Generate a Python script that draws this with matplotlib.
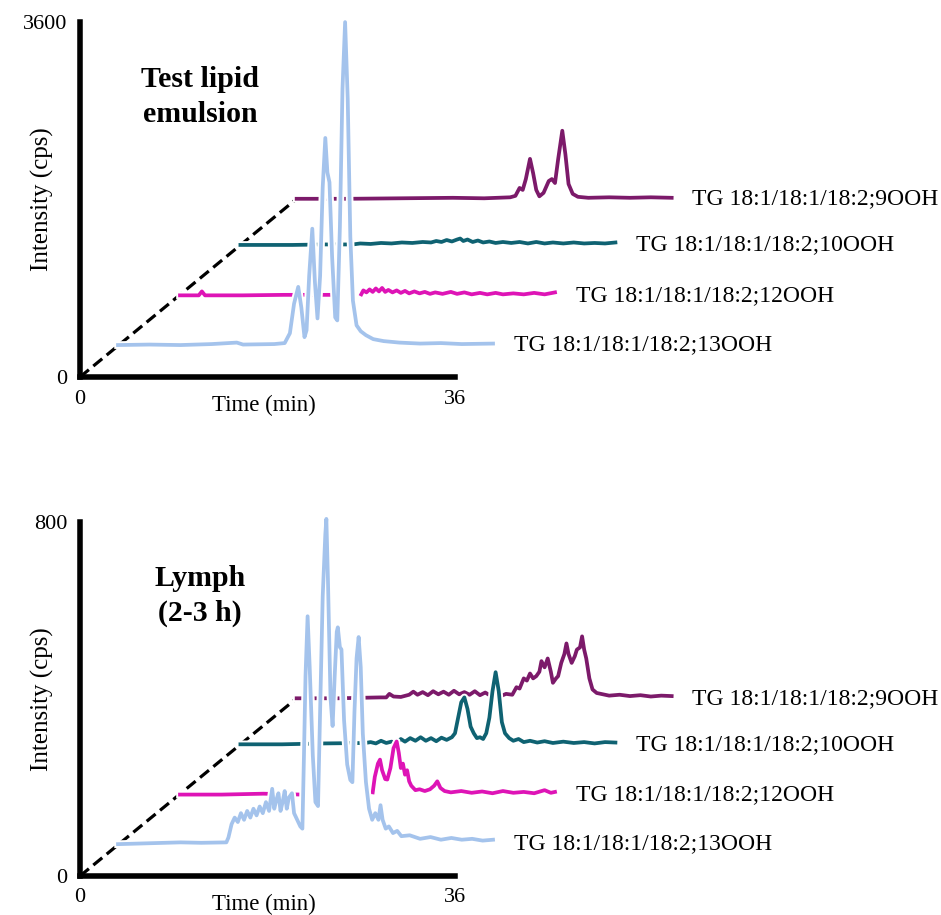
import numpy as np
import matplotlib.pyplot as plt
import matplotlib.patheffects as pe

plt.rcParams['font.family'] = ['Liberation Serif', 'DejaVu Serif']

labels = ["TG 18:1/18:1/18:2;13OOH", "TG 18:1/18:1/18:2;12OOH",
          "TG 18:1/18:1/18:2;10OOH", "TG 18:1/18:1/18:2;9OOH"]
colors = ["#A4C3EC", "#DE14B6", "#0F6272", "#7C1A6A"]

# Test lipid emulsion, time (min) and intensity (cps) for each isomer
t_emu_13 = [0, 3, 6, 9, 11.4, 12, 15, 16.0, 16.5, 16.9, 17.3, 17.6, 17.9, 18.1, 18.35, 18.65, 18.9, 19.15,
            19.4, 19.65, 19.9, 20.1, 20.3, 20.55, 20.85, 21.05, 21.3, 21.55, 21.8, 22.05, 22.3, 22.55, 22.9,
            23.3, 23.8, 24.5, 25.5, 27, 29, 31, 33, 36]
i_emu_13 = [0, 5, 0, 10, 25, 5, 10, 20, 120, 420, 590, 380, 80, 150, 700, 1180, 640, 270,
            700, 1600, 2100, 1750, 1650, 900, 280, 250, 1200, 2600, 3275, 2500, 1100, 450, 200,
            140, 100, 60, 40, 25, 15, 20, 10, 15]

t_emu_12 = [0, 1.8, 2.1, 2.4, 6, 10, 14, 15.0, 15.1, 17.4, 17.6, 17.9, 18.2, 18.5, 18.8, 19.1, 19.4, 19.7,
            20.0, 20.4, 20.8, 21.2, 21.6, 22.0, 22.5, 23.0, 23.5, 24.0, 24.5, 25.2, 26, 26.6, 27.3, 28,
            28.8, 29.5, 30.3, 31, 32, 33, 34, 35, 36]
i_emu_12 = [0, 0, 40, 0, 0, 5, 5, 5, np.nan, 10, 50, 30, 60, 35, 70, 40, 75, 35,
            55, 30, 50, 25, 45, 20, 40, 20, 35, 15, 30, 15, 35, 15, 30, 10,
            25, 10, 25, 10, 20, 10, 25, 10, 30]

t_emu_10 = [0, 5, 8, 10.8, 11.5, 12.5, 13.5, 14.5, 15.5, 16.5, 17.5, 18.3, 18.8, 19.3, 19.8, 20.3, 20.8,
            21.1, 21.4, 21.8, 22.3, 22.8, 23.3, 23.9, 24.5, 25.2, 26, 26.8, 27.6, 28.4, 29.2, 30, 31, 32,
            33, 34, 35, 36]
i_emu_10 = [0, 0, 5, 5, 15, 10, 20, 15, 25, 20, 30, 25, 40, 30, 50, 35, 55,
            65, 40, 55, 30, 45, 25, 35, 20, 30, 20, 30, 15, 30, 15, 25, 15, 25,
            15, 20, 15, 25]

t_emu_9 = [0, 5, 10, 15, 18, 20.5, 21.0, 21.4, 21.7, 22.0, 22.4, 22.7, 23.0, 23.3, 23.7, 24.2, 24.5,
           24.8, 25.1, 25.5, 25.8, 26.1, 26.5, 27, 28, 30, 32, 34, 36]
i_emu_9 = [0, 0, 5, 10, 5, 15, 30, 110, 90, 200, 405, 260, 90, 25, 60, 180, 200,
           160, 400, 690, 450, 150, 50, 20, 10, 15, 10, 15, 10]

# Lymph (2-3 h)
t_lym_13 = [0, 3, 6, 8, 10.4, 10.6, 10.9, 11.2, 11.5, 11.8, 12.1, 12.4, 12.7, 13.0, 13.3, 13.6, 13.9,
            14.2, 14.5, 14.8, 15.0, 15.2, 15.4, 15.6, 15.8, 16.0, 16.2, 16.4, 16.7, 16.9, 17.2, 17.5,
            17.7, 17.85, 18.0, 18.2, 18.4, 18.7, 18.95, 19.2, 19.4, 19.65, 19.9, 20.0, 20.15, 20.4,
            20.6, 20.8, 21.0, 21.1, 21.3, 21.45, 21.7, 22.0, 22.3, 22.5, 22.7, 22.9, 23.1, 23.3, 23.5,
            23.8, 24.1, 24.4, 24.7, 25.0, 25.2, 25.4, 25.7, 26.0, 26.4, 26.8, 27.2, 28, 29, 30, 31, 32,
            33, 34, 35, 36]
i_lym_13 = [0, 2, 4, 3, 4, 15, 45, 60, 50, 70, 55, 75, 60, 80, 65, 85, 70,
            95, 75, 125, 80, 100, 115, 75, 95, 120, 80, 105, 115, 70, 55, 40,
            35, 200, 380, 515, 400, 200, 95, 86, 300, 560, 700, 735, 600, 330,
            267, 380, 480, 490, 445, 440, 280, 180, 145, 140, 300, 420, 468, 400, 250,
            140, 80, 55, 70, 55, 88, 55, 35, 40, 25, 30, 18, 20, 12, 16, 10, 14,
            10, 12, 8, 10]

t_lym_12 = [0, 4, 8, 11.7, 11.8, 18.5, 18.7, 19.0, 19.2, 19.4, 19.7, 19.9, 20.2, 20.5, 20.8, 21.0, 21.2,
            21.4, 21.6, 21.8, 22.0, 22.2, 22.6, 23.0, 23.5, 24.0, 24.4, 24.7, 25.0, 25.4, 26, 27, 28, 29,
            30, 31, 32, 33, 34, 35, 35.6, 36]
i_lym_12 = [0, 0, 2, 0, np.nan, 5, 40, 70, 79, 55, 35, 34, 60, 105, 120, 95, 60,
            70, 45, 55, 30, 20, 10, 12, 8, 12, 20, 30, 15, 8, 5, 8, 4, 7,
            3, 8, 4, 6, 3, 10, 4, 6]

t_lym_10 = [0, 4, 8, 12, 12.5, 13.0, 13.5, 14, 14.5, 15.0, 15.4, 15.8, 16.3, 16.8, 17.3, 17.8, 18.3,
            18.8, 19.3, 19.8, 20.3, 20.6, 20.9, 21.2, 21.5, 21.8, 22.1, 22.4, 22.7, 23.0, 23.3, 23.6,
            23.9, 24.2, 24.5, 24.8, 25.1, 25.4, 25.8, 26.2, 26.7, 27.2, 27.8, 28.5, 29.2, 30, 31, 32,
            33, 34, 35, 36]
i_lym_10 = [0, 0, 2, 3, 5, 2, 8, 3, 6, 4, 12, 6, 14, 8, 16, 8, 14,
            7, 15, 10, 16, 25, 60, 95, 106, 80, 40, 25, 14, 16, 12, 25,
            60, 120, 163, 120, 50, 25, 14, 8, 12, 5, 8, 4, 7, 3, 6, 3,
            5, 2, 5, 4]

t_lym_9 = [0, 4, 8, 8.6, 8.9, 9.3, 10.0, 10.8, 11.2, 11.6, 12.1, 12.6, 13.1, 13.6, 14.1, 14.6, 15.1,
           15.6, 16.1, 16.6, 17.1, 17.6, 18.1, 18.6, 19.1, 19.6, 20.1, 20.7, 21.1, 21.4, 21.8, 22.1,
           22.4, 22.7, 23.0, 23.3, 23.5, 23.8, 24.1, 24.4, 24.6, 24.9, 25.1, 25.4, 25.7, 25.9, 26.1,
           26.4, 26.7, 26.9, 27.2, 27.4, 27.6, 27.8, 28.1, 28.4, 28.8, 29.2, 30, 31, 32, 33, 34, 35, 36]
i_lym_9 = [0, 0, 2, 2, 10, 4, 3, 8, 15, 8, 14, 7, 16, 9, 15, 8, 17,
           9, 14, 8, 16, 7, 13, 6, 12, 5, 10, 8, 25, 22, 45, 40,
           56, 45, 50, 60, 84, 70, 90, 60, 35, 45, 50, 80, 100, 124, 100,
           80, 95, 110, 115, 140, 110, 90, 45, 20, 12, 10, 6, 8, 5, 7, 4, 6, 5]

panels = [
    ("Test lipid\nemulsion", 3600,
     [(t_emu_13, i_emu_13), (t_emu_12, i_emu_12), (t_emu_10, i_emu_10), (t_emu_9, i_emu_9)]),
    ("Lymph\n(2-3 h)", 800,
     [(t_lym_13, i_lym_13), (t_lym_12, i_lym_12), (t_lym_10, i_lym_10), (t_lym_9, i_lym_9)]),
]

# shift of each trace for the stacked look
x_shift = [3.65, 9.6, 15.4, 20.8]
y_shift = [0.09, 0.23, 0.372, 0.502]

fig = plt.figure(figsize=(9.41, 9.15), dpi=100)
ax_top = fig.add_axes([80 / 941, 1 - 377 / 915, 375 / 941, 355 / 915])
ax_bot = fig.add_axes([80 / 941, 1 - 876 / 915, 375 / 941, 354 / 915])

for ax, (title, ymax, traces) in zip([ax_top, ax_bot], panels):
    ax.set_xlim(0, 36)
    ax.set_ylim(0, ymax)
    for s in ["top", "right"]:
        ax.spines[s].set_visible(False)
    for s in ["left", "bottom"]:
        ax.spines[s].set_linewidth(4)
        ax.spines[s].set_capstyle("projecting")
    ax.set_xticks([0, 36])
    ax.set_yticks([0, ymax])
    ax.tick_params(length=0, labelsize=16)
    ax.tick_params(axis="x", pad=9)
    ax.tick_params(axis="y", pad=9)

    # dashed guide through the start of each trace
    ax.plot([0, x_shift[3]], [0, y_shift[3] * ymax], color="black", lw=2.3,
            dashes=(3.6, 1.8), zorder=1, clip_on=False)

    # back to front: 9OOH, 10OOH, 12OOH, 13OOH
    for k in [3, 2, 1, 0]:
        t, y = traces[k]
        x = np.array(t) + x_shift[k]
        yy = np.array(y) + y_shift[k] * ymax
        ax.plot(x, yy, color=colors[k], lw=2.7, zorder=2 + (3 - k), clip_on=False,
                solid_joinstyle="round",
                path_effects=[pe.Stroke(linewidth=5.5, foreground="white"), pe.Normal()])
        ax.text(x_shift[k] + 36 + 2.0, y_shift[k] * ymax, labels[k], fontsize=17,
                va="center", ha="left")

    ax.text(0.32, 0.79, title, transform=ax.transAxes, ha="center", va="center",
            fontsize=21.5, fontweight="bold", linespacing=1.38)
    ax.text(0.49, -0.08, "Time (min)", transform=ax.transAxes, ha="center", va="center",
            fontsize=16.5)
    ax.text(-0.101, 0.5, "Intensity (cps)", transform=ax.transAxes, ha="center", va="center",
            fontsize=18, rotation=90)

fig.savefig("out.png", dpi=100)
